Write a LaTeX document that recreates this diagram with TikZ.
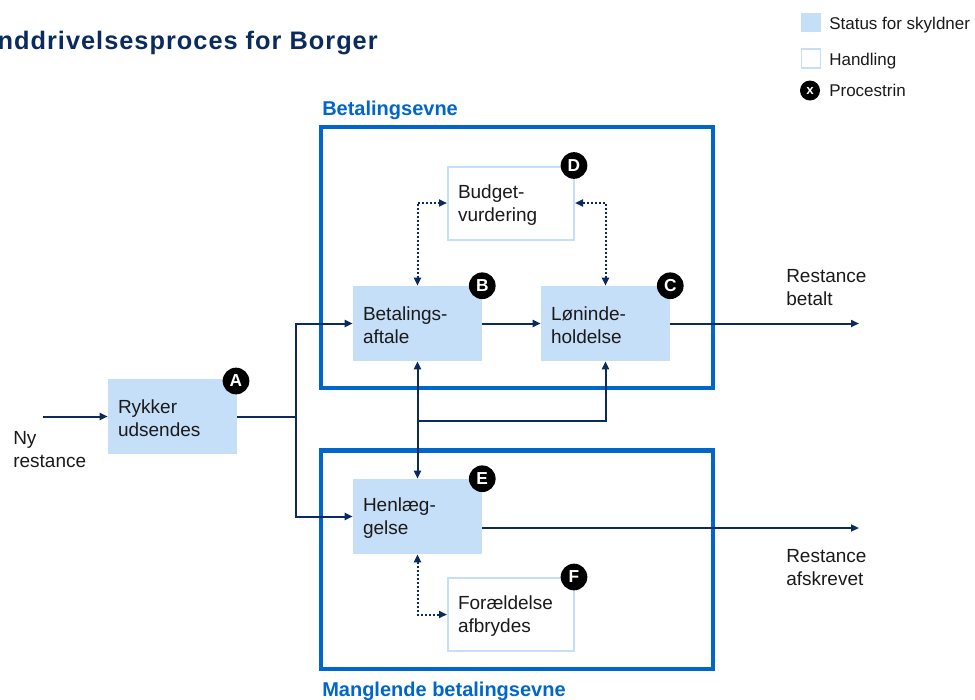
\documentclass[tikz,border=0pt]{standalone}
\usepackage{fontspec}
\setmainfont{Liberation Sans}
\usetikzlibrary{arrows.meta}

\definecolor{navy}{HTML}{0B2B5E}
\definecolor{statefill}{HTML}{C6DFF8}
\definecolor{frameblue}{HTML}{0066CC}
\definecolor{bodytext}{HTML}{1A1A1A}

\begin{document}
\begin{tikzpicture}[
  x=0.75pt, y=-0.75pt,
  txt/.style={font=\fontsize{14.25pt}{17.25pt}\selectfont, text=bodytext},
  state/.style={txt, fill=statefill, draw=none,
    minimum height=56.25pt, text width=81.75pt,
    inner xsep=7.5pt, inner ysep=0pt, align=left,
    execute at begin node={\rule{0pt}{13pt}}},
  action/.style={state, fill=white, draw=statefill, line width=1.5pt},
  badge/.style={circle, fill=black, text=white, inner sep=0pt,
    minimum size=20pt, font=\bfseries\fontsize{13pt}{13pt}\selectfont},
  lbl/.style={txt, inner sep=0pt, align=left},
  conn/.style={draw=navy, line width=1.5pt, -{Triangle[length=6pt,width=5.25pt]}},
  link/.style={draw=navy, line width=1.5pt},
  dotconn/.style={draw=navy, line width=1.5pt, dash pattern=on 1.5pt off 1.5pt,
    {Triangle[length=6pt,width=5.25pt]}-{Triangle[length=6pt,width=5.25pt]}},
  frame/.style={draw=frameblue, line width=3.4pt, inner sep=0pt},
  group/.style={font=\bfseries\fontsize{15pt}{18pt}\selectfont, text=frameblue,
    inner sep=0pt, anchor=base west},
  legend/.style={font=\fontsize{12.75pt}{15pt}\selectfont, text=bodytext,
    inner sep=0pt, anchor=base west}
]
\useasboundingbox (0,0) rectangle (975,700);

% title
\node[anchor=base east, inner sep=0pt, text=navy,
  font=\bfseries\fontsize{19pt}{22pt}\selectfont\addfontfeature{LetterSpace=4}]
  (title) at (378,49) {Inddrivelsesproces for Borger};

% legend
\node[fill=statefill, minimum width=15pt, minimum height=14.25pt, inner sep=0pt]
  (legS) at (811,22.5) {};
\node[legend] (legSt) at (829,29) {Status for skyldner};
\node[draw=statefill, fill=white, line width=1.2pt, minimum width=14pt,
  minimum height=14pt, inner sep=0pt] (legH) at (811,58.5) {};
\node[legend] (legHt) at (829,65) {Handling};
\node[circle, fill=black, text=white, minimum size=15pt, inner sep=0pt,
  font=\bfseries\fontsize{10pt}{10pt}\selectfont] (legP) at (810,90.5) {x};
\node[legend] (legPt) at (829,96) {Procestrin};

% group frames
\node[frame, minimum width=294pt, minimum height=195.75pt] (fTop) at (517,257.5) {};
\node[frame, minimum width=294pt, minimum height=163.9pt] (fBot) at (517,559.75) {};
\node[group] (gTop) at (322,115) {Betalingsevne};
\node[group] (gBot) at (322,696) {Manglende betalingsevne};

% process steps
\node[state] (A) at (172.5,416.5) {Rykker\\udsendes};
\node[state] (B) at (417.5,323.5) {Betalings-\\aftale};
\node[state] (C) at (605.5,323.5) {Løninde-\\holdelse};
\node[action, minimum height=54.75pt, text width=79.5pt] (D) at (511,203) {Budget-\\vurdering};
\node[state] (E) at (417.5,516.5) {Henlæg-\\gelse};
\node[action, minimum height=54.75pt, text width=79.5pt] (F) at (511,614.5) {Forældelse\\afbrydes};

% step markers
\node[badge] (bA) at (236,381) {A};
\node[badge] (bB) at (B.north east) {B};
\node[badge] (bC) at (C.north east) {C};
\node[badge] (bD) at ([xshift=-0.75pt]D.north east) {D};
\node[badge] (bE) at (E.north east) {E};
\node[badge] (bF) at ([xshift=-0.75pt]F.north east) {F};

% free texts (anchored on the baseline of their last line)
\node[lbl, anchor=base west] (ny) at (13,467) {Ny\\restance};
\node[lbl, anchor=base west] (paid) at (786,305) {Restance\\betalt};
\node[lbl, anchor=base west] (wo) at (786,585) {Restance\\afskrevet};

% connector ends and junctions
\coordinate (nyIn) at (43,416.5);
\coordinate (jA) at (296,416.5);
\coordinate (jB) at (417.5,421);
\coordinate (outP) at (859,323.5);
\coordinate (outA) at (859,528);

% connectors
\draw[conn] (nyIn) -- (A.west);
\draw[link] (A.east) -- (jA);
\draw[conn] (jA) |- (B.west);
\draw[conn] (jA) |- (E.west);
\draw[conn] (B.east) -- (C.west);
\draw[conn] (C.east) -- (outP);
\draw[conn] (E.east |- outA) -- (outA);
\draw[conn, {Triangle[length=6pt,width=5.25pt]}-{Triangle[length=6pt,width=5.25pt]}]
  (B.south) -- (E.north);
\draw[conn] (jB) -| (C.south);
\draw[dotconn] (B.north) |- (D.west);
\draw[dotconn] (C.north) |- (D.east);
\draw[dotconn] (E.south) |- (F.west);
\end{tikzpicture}
\end{document}
